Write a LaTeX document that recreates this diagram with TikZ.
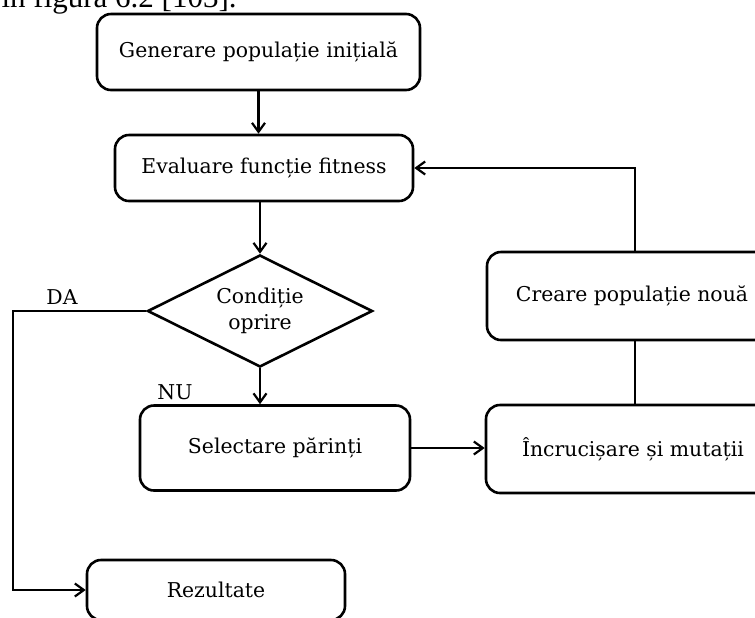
\documentclass[tikz,border=0pt]{standalone}
\usepackage{fontspec}
\setmainfont{DejaVu Serif}
\newfontfamily\capfont{Liberation Serif}
\usetikzlibrary{positioning,arrows.meta,shapes.geometric}

\begin{document}
\begin{tikzpicture}[
  x=0.5pt, y=-0.5pt,
  font=\fontsize{10.2}{13}\selectfont, >={Straight Barb[length=4.5pt,width=6.5pt]},
  box/.style={draw, line width=1.3pt, rounded corners=7pt, align=center, inner sep=2pt},
  cond/.style={draw, diamond, line width=1.3pt, aspect=2, inner sep=0pt, align=center},
  link/.style={line width=1.1pt},
  lbl/.style={inner sep=0pt}]
  \useasboundingbox (0,0) rectangle (755,617);
  \clip (0,0) rectangle (755,617);

  % page text cut at the top
  \node[anchor=base east, inner sep=0pt, font=\capfont\fontsize{15.5}{17}\selectfont] (caption) at (237,7) {în figura 6.2 [103].};

  % main column
  \node[box, minimum width=161.5pt, minimum height=38pt] (gen) at (258.5,52) {Generare populație inițială};
  \node[box, minimum width=149pt, minimum height=33pt] (eval) at (264,168) {Evaluare funcție fitness};
  \node[cond, minimum width=112.5pt, minimum height=56pt] (stop) at (260,311) {Condiție\\oprire};
  \node[box, minimum width=135pt, minimum height=42.5pt] (sel) at (275,448) {Selectare părinți};
  \node[box, minimum width=129pt, minimum height=30pt] (rez) at (216,590) {Rezultate};

  % right column
  \node[box, minimum width=147pt, minimum height=44pt] (cross) at (633,449) {Încrucișare și mutații};
  \node[box, minimum width=145pt, minimum height=44pt] (newpop) at (632,296) {Creare populație nouă};

  \coordinate (da) at (13,311);
  \coordinate (back) at (635,169);

  \draw[link, ->] (gen.south) -- (gen.south |- eval.north);
  \draw[link, ->] (stop.north |- eval.south) -- (stop.north);
  \draw[link, ->] (stop.west) -- (da) |- (rez.west);
  \node[lbl] (dalbl) at (62,297) {DA};
  \draw[link, ->] (stop.south) -- (stop.south |- sel.north);
  \node[lbl] (nulbl) at (175,392) {NU};
  \draw[link, ->] (sel.east) -- (sel.east -| cross.west);
  \draw[link] (cross.north -| back) -- (newpop.south -| back);
  \draw[link, ->] (newpop.north -| back) |- (eval.east);
\end{tikzpicture}
\end{document}
